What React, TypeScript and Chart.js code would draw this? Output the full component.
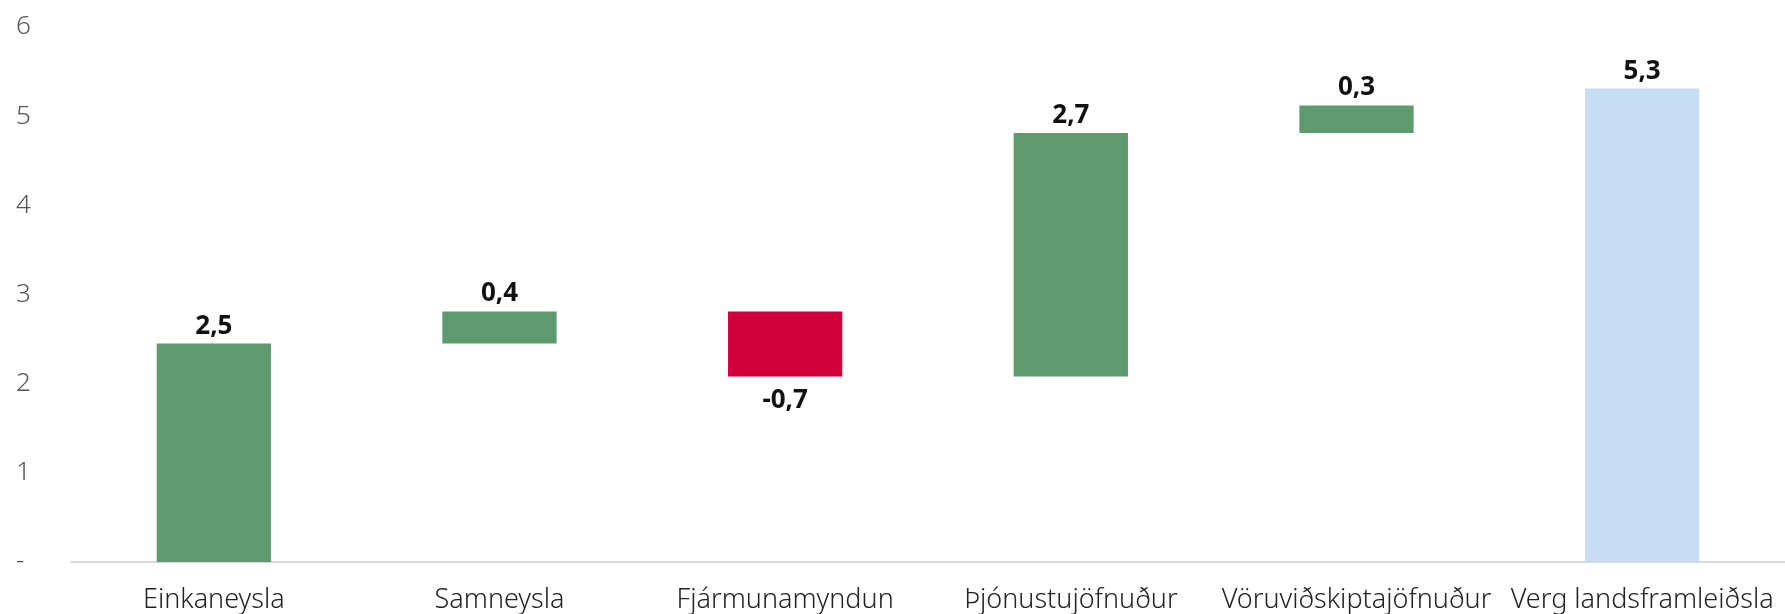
import React, { useEffect, useRef } from "react";
import { Chart, registerables } from "chart.js";

Chart.register(...registerables);

const categories = [
  "Einkaneysla",
  "Samneysla",
  "Fjármunamyndun",
  "Þjónustujöfnuður",
  "Vöruviðskiptajöfnuður",
  "Verg landsframleiðsla",
];
// contributions (waterfall steps)
const contributions = [2.45, 0.36, -0.73, 2.73, 0.31];
const totalValue = 5.31;
const valueLabels = ["2,5", "0,4", "-0,7", "2,7", "0,3", "5,3"];
const yTicks = [0, 1, 2, 3, 4, 5, 6];

const GREEN = "#5f9a6e";
const RED = "#cf003b";
const BLUE = "#c6ddf4";
const FONT = "'Noto Sans', sans-serif";

export default function App() {
  const ref = useRef<HTMLCanvasElement | null>(null);

  useEffect(() => {
    document.body.style.margin = "0";
    const ranges: [number, number][] = [];
    let acc = 0;
    contributions.forEach((c) => {
      ranges.push([acc, acc + c]);
      acc += c;
    });
    ranges.push([0, totalValue]);
    const colors = [
      ...contributions.map((c) => (c >= 0 ? GREEN : RED)),
      BLUE,
    ];

    const labelPlugin = {
      id: "valueLabels",
      afterDatasetsDraw(chart: any) {
        const ctx = chart.ctx;
        const meta = chart.getDatasetMeta(0);
        ctx.save();
        ctx.font = `bold 26px ${FONT}`;
        ctx.fillStyle = "#111";
        ctx.textAlign = "center";
        ctx.textBaseline = "alphabetic";
        meta.data.forEach((bar: any, i: number) => {
          const isNeg = i < contributions.length && contributions[i] < 0;
          const top = Math.min(bar.y, bar.base);
          const bottom = Math.max(bar.y, bar.base);
          if (isNeg) {
            ctx.fillText(valueLabels[i], bar.x, bottom + 31);
          } else {
            ctx.fillText(valueLabels[i], bar.x, top - 10);
          }
        });
        ctx.restore();
      },
    };

    const chart = new Chart(ref.current!, {
      type: "bar",
      data: {
        labels: categories,
        datasets: [
          {
            data: ranges as any,
            backgroundColor: colors,
            borderWidth: 0,
            barPercentage: 0.4,
            categoryPercentage: 1,
          },
        ],
      },
      options: {
        animation: false,
        responsive: false,
        maintainAspectRatio: false,
        layout: { padding: { left: 16, top: 27, right: 0, bottom: 0 } },
        plugins: {
          legend: { display: false },
          tooltip: { enabled: false },
        },
        scales: {
          x: {
            grid: { display: false, drawTicks: false },
            border: { display: true, color: "#d9d9d9", width: 2 },
            afterFit(scale: any) {
              scale.height = 52;
              scale.paddingLeft = 0;
              scale.paddingRight = 0;
            },
            ticks: {
              color: "#222",
              font: { family: FONT, size: 27, weight: 300 as any },
              padding: 22,
              maxRotation: 0,
              autoSkip: false,
            },
          },
          y: {
            min: 0,
            max: 6,
            afterBuildTicks(scale: any) {
              scale.ticks = yTicks.map((v) => ({ value: v }));
            },
            afterFit(scale: any) {
              scale.width = 55;
            },
            grid: { display: false, drawTicks: false },
            border: { display: false },
            ticks: {
              color: "#555",
              crossAlign: "far",
              padding: 4,
              font: { family: FONT, size: 26, weight: 300 as any },
              callback: (v: any) => (Number(v) === 0 ? "-" : String(v)),
            },
          },
        },
      },
      plugins: [labelPlugin],
    });
    return () => chart.destroy();
  }, []);

  return (
    <div style={{ width: 1785, height: 614 }}>
      <canvas ref={ref} width={1785} height={614} style={{ display: "block" }} />
    </div>
  );
}
